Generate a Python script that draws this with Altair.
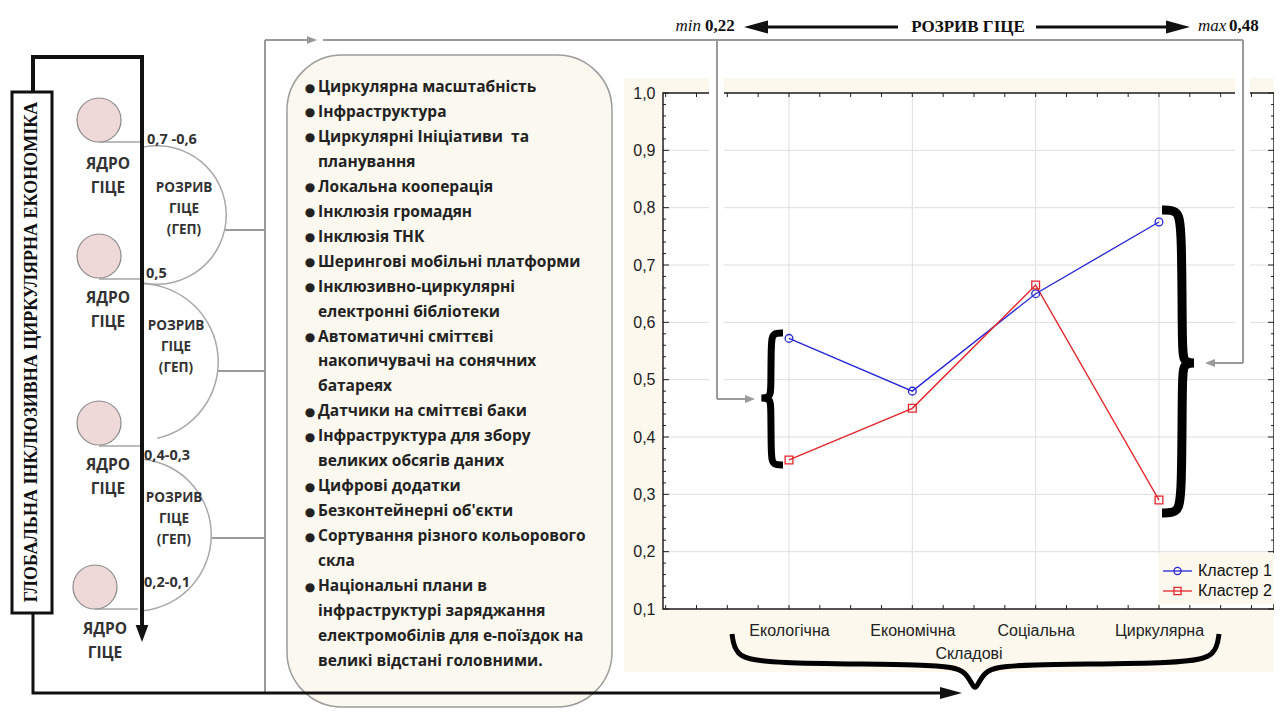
import json
import altair as alt
import pandas as pd

# ---------------- chart data ----------------
categories = ["Екологічна", "Економічна", "Соціальна", "Циркулярна"]
cluster_1 = [0.572, 0.480, 0.650, 0.775]
cluster_2 = [0.360, 0.450, 0.665, 0.290]
series_names = ["Кластер 1", "Кластер 2"]
series_colors = ["#2424d8", "#e3262b"]
series_shapes = ["circle", "square"]
y_label_values = [0.1, 0.2, 0.3, 0.4, 0.5, 0.6, 0.7, 0.8, 0.9, 1.0]
y_minor_values = [round(0.1 + 0.02 * k, 2) for k in range(46) if k % 5]
x_tick_values = [0.25 * k for k in range(20)]
x_axis_title = "Складові"

# ---------------- diagram texts ----------------
frame_title = "ГЛОБАЛЬНА ІНКЛЮЗИВНА ЦИРКУЛЯРНА ЕКОНОМІКА"
core_label = ["ЯДРО", "ГІЦЕ"]
gap_label = ["РОЗРИВ", "ГІЦЕ", "(ГЕП)"]
gap_values = ["0,7 -0,6", "0,5", "0,4-0,3", "0,2-0,1"]
top_note = ["min", "0,22", "РОЗРИВ ГІЦЕ", "max", "0,48"]
list_items = [
    ["Циркулярна масштабність"],
    ["Інфраструктура"],
    ["Циркулярні Ініціативи \u00a0та", "планування"],
    ["Локальна кооперація"],
    ["Інклюзія громадян"],
    ["Інклюзія ТНК"],
    ["Шерингові мобільні платформи"],
    ["Інклюзивно-циркулярні", "електронні бібліотеки"],
    ["Автоматичні сміттєві", "накопичувачі на сонячних", "батареях"],
    ["Датчики на сміттєві баки"],
    ["Інфраструктура для збору", "великих обсягів даних"],
    ["Цифрові додатки"],
    ["Безконтейнерні об'єкти"],
    ["Сортування різного кольорового", "скла"],
    ["Національні плани в", "інфраструктурі заряджання",
     "електромобілів для е-поїздок на", "великі відстані головними."],
]

# ---------------- layout (page pixels) ----------------
PL, PT, W, H = 663, 93, 611, 516
STEP = 123.33
X_DOMAIN = [1 - 126 / STEP, 1 + (W - 126) / STEP]

SX = alt.Scale(domain=[PL, PL + W], nice=False, zero=False)
SY = alt.Scale(domain=[PT, PT + H], reverse=True, nice=False, zero=False)


def PX(f):
    return alt.X(f"{f}:Q", scale=SX, axis=None)


def PY(f):
    return alt.Y(f"{f}:Q", scale=SY, axis=None)


def rects(rows, **mk):
    return alt.Chart(pd.DataFrame(rows)).mark_rect(**mk).encode(
        x=PX("x"), x2=alt.X2("x2"), y=PY("y"), y2=alt.Y2("y2"),
        fill=alt.Fill("fill:N", scale=None),
        stroke=alt.Stroke("stroke:N", scale=None),
        strokeWidth=alt.StrokeWidth("sw:Q", scale=None))


def rules(rows):
    return alt.Chart(pd.DataFrame(rows)).mark_rule(strokeCap="butt").encode(
        x=PX("x"), x2=alt.X2("x2"), y=PY("y"), y2=alt.Y2("y2"),
        color=alt.Color("c:N", scale=None),
        strokeWidth=alt.StrokeWidth("sw:Q", scale=None))


def paths(rows, interp):
    return alt.Chart(pd.DataFrame(rows)).mark_line(
        interpolate=interp, strokeJoin="miter", strokeCap="butt").encode(
        x=PX("x"), y=PY("y"), detail="id:N", order="o:Q",
        color=alt.Color("c:N", scale=None),
        strokeWidth=alt.StrokeWidth("sw:Q", scale=None))


def texts(rows, font, size, weight="normal", style="normal", align="left",
          angle=0, color="#222222"):
    return alt.Chart(pd.DataFrame(rows)).mark_text(
        font=font, fontSize=size, fontWeight=weight, fontStyle=style,
        align=align, baseline="middle", angle=angle, color=color).encode(
        x=PX("x"), y=PY("y"), text="t:N")


def polyline(pid, pts, c, sw):
    return [dict(id=pid, o=i, x=p[0], y=p[1], c=c, sw=sw) for i, p in enumerate(pts)]


# ---------------- background decorations ----------------
bg = alt.layer(
    rects([
        dict(x=624, x2=PL + W, y=78, y2=672, fill="#fcf8ed", stroke="transparent", sw=0),
        dict(x=PL, x2=PL + W, y=PT, y2=PT + H, fill="#ffffff", stroke="transparent", sw=0),
    ]),
)

# ---------------- data layer ----------------
label_expr_x = json.dumps(categories, ensure_ascii=False) + "[datum.value - 1]"
x_axis = alt.Axis(values=[1, 2, 3, 4], labelExpr=label_expr_x, title=x_axis_title,
                  grid=False, ticks=False, domain=False, labelFont="Liberation Sans",
                  labelFontSize=16, labelColor="#222222", labelPadding=13,
                  titleFont="Liberation Sans", titleFontSize=16, titleFontWeight="normal",
                  titleColor="#222222", titlePadding=7, zindex=1, labelFlush=False)
y_axis = alt.Axis(values=y_label_values,
                  labelExpr="replace(format(datum.value, '.1f'), '.', ',')",
                  title=None, grid=False, ticks=False, domain=False,
                  labelFont="Liberation Sans", labelFontSize=16, labelColor="#222222",
                  labelPadding=8, zindex=1)
xs = alt.Scale(domain=X_DOMAIN, nice=False, zero=False)
ys = alt.Scale(domain=[0.1, 1.0], nice=False, zero=False)


def DX():
    return alt.X("pos:Q", scale=xs, axis=x_axis)


def DY():
    return alt.Y("value:Q", scale=ys, axis=y_axis)


rows = []
for name, vals in zip(series_names, [cluster_1, cluster_2]):
    for i, (cat, v) in enumerate(zip(categories, vals)):
        rows.append(dict(series=name, cat=cat, pos=i + 1, value=v))
df = pd.DataFrame(rows)
cats_df = pd.DataFrame(dict(pos=[1, 2, 3, 4]))
ymaj_df = pd.DataFrame(dict(value=y_label_values))
ymin_df = pd.DataFrame(dict(value=y_minor_values))
xt_df = pd.DataFrame(dict(pos=x_tick_values))

color_enc = alt.Color("series:N", scale=alt.Scale(domain=series_names, range=series_colors), legend=None)
shape_enc = alt.Shape("series:N", scale=alt.Scale(domain=series_names, range=series_shapes), legend=None)
TK = "#222222"
data_group = alt.layer(
    alt.Chart(cats_df).mark_rule(color="#dedede", strokeWidth=1).encode(x=DX()),
    alt.Chart(ymaj_df).mark_rule(color="#dedede", strokeWidth=1).encode(y=DY()),
    alt.Chart(ymaj_df).mark_rule(color=TK, strokeWidth=1).encode(y=DY(), x=alt.value(0), x2=alt.value(6)),
    alt.Chart(ymin_df).mark_rule(color=TK, strokeWidth=1).encode(y=DY(), x=alt.value(0), x2=alt.value(3)),
    alt.Chart(ymaj_df).mark_rule(color=TK, strokeWidth=1).encode(y=DY(), x=alt.value(W), x2=alt.value(W - 6)),
    alt.Chart(ymin_df).mark_rule(color=TK, strokeWidth=1).encode(y=DY(), x=alt.value(W), x2=alt.value(W - 3)),
    alt.Chart(xt_df).mark_rule(color=TK, strokeWidth=1).encode(x=DX(), y=alt.value(H), y2=alt.value(H - 4)),
    alt.Chart(xt_df).mark_rule(color=TK, strokeWidth=1).encode(x=DX(), y=alt.value(0), y2=alt.value(4)),
    alt.Chart(df).mark_line(strokeWidth=1.3).encode(x=DX(), y=DY(), color=color_enc, detail="series:N", order="pos:Q"),
    alt.Chart(df).mark_point(filled=False, size=60, strokeWidth=1.3, opacity=1).encode(
        x=DX(), y=DY(), color=color_enc, shape=shape_enc),
)

# ---------------- foreground decorations ----------------
G = "#9a9a9a"
rect_rows = [
    dict(x=PL, x2=PL + W, y=PT, y2=PT + H, fill="transparent", stroke="#222222", sw=1.5),
    dict(x=709, x2=724, y=78, y2=392, fill="#ffffff", stroke="transparent", sw=0),
    dict(x=1235, x2=1250, y=78, y2=357, fill="#ffffff", stroke="transparent", sw=0),
    dict(x=1158, x2=PL + W, y=553, y2=604, fill="#fcf8ed", stroke="transparent", sw=0),
    dict(x=12, x2=52, y=92, y2=613, fill="#ffffff", stroke="#111111", sw=3),
]
box = alt.Chart(pd.DataFrame([dict(x=287, x2=612, y=55, y2=707)])).mark_rect(
    fill="#fbf8ef", stroke="#9c9c9c", strokeWidth=1.5, cornerRadius=55).encode(
    x=PX("x"), x2=alt.X2("x2"), y=PY("y"), y2=alt.Y2("y2"))

rule_rows = [
    # gray connectors
    dict(x=265, x2=265, y=40, y2=693, c=G, sw=2),
    dict(x=265, x2=308, y=40, y2=40, c=G, sw=2),
    dict(x=323, x2=1243, y=40, y2=40, c=G, sw=2),
    dict(x=717, x2=717, y=40, y2=399, c=G, sw=2),
    dict(x=717, x2=746, y=399, y2=399, c=G, sw=2),
    dict(x=1243, x2=1243, y=40, y2=363, c=G, sw=2),
    dict(x=1243, x2=1214, y=363, y2=363, c=G, sw=2),
    dict(x=225, x2=265, y=230, y2=230, c=G, sw=2),
    dict(x=218, x2=265, y=371, y2=371, c=G, sw=2),
    dict(x=212, x2=265, y=538, y2=538, c=G, sw=2),
    # circle baselines
    dict(x=99, x2=142, y=142, y2=142, c="#7a7a7a", sw=1.2),
    dict(x=99, x2=142, y=279, y2=279, c="#7a7a7a", sw=1.2),
    dict(x=99, x2=142, y=446, y2=446, c="#7a7a7a", sw=1.2),
    dict(x=95, x2=138, y=609, y2=609, c="#7a7a7a", sw=1.2),
    # top black arrows
    dict(x=766, x2=898, y=27, y2=27, c="#111111", sw=3),
    dict(x=1036, x2=1170, y=27, y2=27, c="#111111", sw=3),
]

arcs_df = pd.DataFrame([
    dict(x=157, y=215, r=70.0, r2=68.5, t1=6.083, t2=9.625),
    dict(x=140, y=362, r=79.0, r2=77.5, t1=0.04, t2=2.92),
    dict(x=135, y=535, r=77.0, r2=75.5, t1=0.104, t2=3.037),
])
arcs = alt.Chart(arcs_df).mark_arc(color="#a8a8a8").encode(
    x=PX("x"), y=PY("y"),
    theta=alt.Theta("t1:Q", scale=None, stack=False), theta2=alt.Theta2("t2"),
    radius=alt.Radius("r:Q", scale=None), radius2=alt.Radius2("r2"))

circ_df = pd.DataFrame([dict(x=99, y=120), dict(x=99, y=256), dict(x=99, y=423), dict(x=95, y=587)])
circles = alt.Chart(circ_df).mark_circle(size=1936, fill="#efd8d8", stroke="#8a8a8a",
                                          strokeWidth=1.2, opacity=1).encode(x=PX("x"), y=PY("y"))

path_rows = (polyline("p1", [(33, 92), (33, 57), (142, 57), (142, 628)], "#111111", 4)
             + polyline("p2", [(33, 613), (33, 693), (945, 693)], "#111111", 3))

brace_rows = (
    polyline("b1", [(783, 333), (773, 333), (771, 341), (771, 390), (770, 398), (757, 398),
                    (770, 398), (771, 406), (771, 457), (773, 465), (783, 465)], "#000000", 7)
    + polyline("b2", [(1162, 210), (1177, 210), (1182, 223), (1182, 352), (1184, 363), (1199, 363),
                      (1184, 363), (1182, 374), (1182, 500), (1177, 513), (1162, 513)], "#000000", 9)
    + polyline("b3", [(732, 634), (735, 655), (760, 664), (940, 664), (968, 670), (975, 696),
                      (982, 670), (1010, 664), (1190, 664), (1216, 655), (1219, 634)], "#000000", 5)
)

RIGHT_L = "M-1,-0.55L1,0L-1,0.55Z"
LEFT_L = "M1,-0.55L-1,0L1,0.55Z"
DOWN_L = "M-0.75,-1L0.75,-1L0,1Z"
RIGHT_S = "M-1,-0.8L1,0L-1,0.8Z"
LEFT_S = "M1,-0.8L-1,0L1,0.8Z"
heads_df = pd.DataFrame([
    dict(x=142, y=633.5, s=DOWN_L, size=289, c="#111111"),
    dict(x=951, y=693, s=RIGHT_L, size=484, c="#111111"),
    dict(x=756, y=27, s=LEFT_L, size=576, c="#111111"),
    dict(x=1178, y=27, s=RIGHT_L, size=576, c="#111111"),
    dict(x=312, y=40, s=RIGHT_S, size=100, c=G),
    dict(x=750, y=399, s=RIGHT_S, size=100, c=G),
    dict(x=1210, y=363, s=LEFT_S, size=100, c=G),
])
heads = alt.Chart(heads_df).mark_point(filled=True, opacity=1, strokeWidth=0).encode(
    x=PX("x"), y=PY("y"), shape=alt.Shape("s:N", scale=None),
    size=alt.Size("size:Q", scale=None), color=alt.Color("c:N", scale=None))

# text rows
title_rows = [dict(x=32, y=352, t=frame_title)]
core_rows = []
for (cx, cy) in [(108, 164), (108, 298), (108, 465), (105, 629)]:
    core_rows += [dict(x=cx, y=cy, t=core_label[0]), dict(x=cx, y=cy + 24, t=core_label[1])]
gapv_rows = [dict(x=x, y=y, t=t) for (x, y), t in
             zip([(147, 140), (146, 274), (144, 456), (144, 583)], gap_values)]
gapl_rows = []
for (cx, cy) in [(184, 188), (176, 326), (174, 498)]:
    for k, t in enumerate(gap_label):
        gapl_rows.append(dict(x=cx, y=cy + 21 * k, t=t))
list_rows, bullet_rows = [], []
line_no = 0
for item in list_items:
    for j, line in enumerate(item):
        y = 87 + line_no * 24.95
        list_rows.append(dict(x=318, y=y, t=line))
        if j == 0:
            bullet_rows.append(dict(x=310, y=y + 0.5, t="●"))
        line_no += 1
note_min = [dict(x=701, y=26, t=top_note[0])]
note_max = [dict(x=1198, y=26, t=top_note[3])]
note_bold_l = [dict(x=705, y=26, t=top_note[1]), dict(x=1229, y=26, t=top_note[4])]
note_bold_c = [dict(x=968, y=27, t=top_note[2])]

leg_rule_rows, leg_pt_rows, leg_txt_rows = [], [], []
for i, (nm, col, shp) in enumerate(zip(series_names, series_colors, series_shapes)):
    ly = 571 + 20 * i
    leg_rule_rows.append(dict(x=1163, x2=1192, y=ly, y2=ly, c=col, sw=1.3))
    leg_pt_rows.append(dict(x=1177.5, y=ly, s=shp, c=col))
    leg_txt_rows.append(dict(x=1198, y=ly, t=nm))
leg_pts = alt.Chart(pd.DataFrame(leg_pt_rows)).mark_point(
    filled=False, size=50, strokeWidth=1.3, opacity=1).encode(
    x=PX("x"), y=PY("y"), shape=alt.Shape("s:N", scale=None), color=alt.Color("c:N", scale=None))

fg = alt.layer(
    rects(rect_rows),
    box,
    rules(rule_rows),
    arcs,
    circles,
    paths(path_rows, "linear"),
    paths(brace_rows, "basis"),
    heads,
    texts(title_rows, "Liberation Serif", 18, weight="bold", align="center", angle=270, color="#111111"),
    texts(core_rows, "Open Sans", 15.5, weight="bold", align="center", color="#333333"),
    texts(gapv_rows, "Open Sans", 14.5, weight="bold", align="left", color="#333333"),
    texts(gapl_rows, "Open Sans", 13.5, weight="bold", align="center", color="#333333"),
    texts(bullet_rows, "DejaVu Sans", 12, align="center", color="#222222"),
    texts(list_rows, "Open Sans", 15.5, weight="bold", align="left", color="#222222"),
    texts(note_min, "Liberation Serif", 17, style="italic", align="right", color="#111111"),
    texts(note_max, "Liberation Serif", 17, style="italic", align="left", color="#111111"),
    texts(note_bold_l, "Liberation Serif", 17, weight="bold", align="left", color="#111111"),
    texts(note_bold_c, "Liberation Serif", 17, weight="bold", align="center", color="#111111"),
    rules(leg_rule_rows),
    leg_pts,
    texts(leg_txt_rows, "Liberation Sans", 16, align="left", color="#111111"),
)

chart = alt.layer(bg, data_group, fg).resolve_scale(
    x="independent", y="independent"
).properties(
    width=W, height=H,
    autosize=alt.AutoSizeParams(type="none"),
    padding={"left": PL - 8, "top": PT - 8, "right": 0, "bottom": 99},
).configure_view(strokeWidth=0).configure(background="#ffffff")

chart.save("out.html", embed_options={"renderer": "svg", "actions": False})
